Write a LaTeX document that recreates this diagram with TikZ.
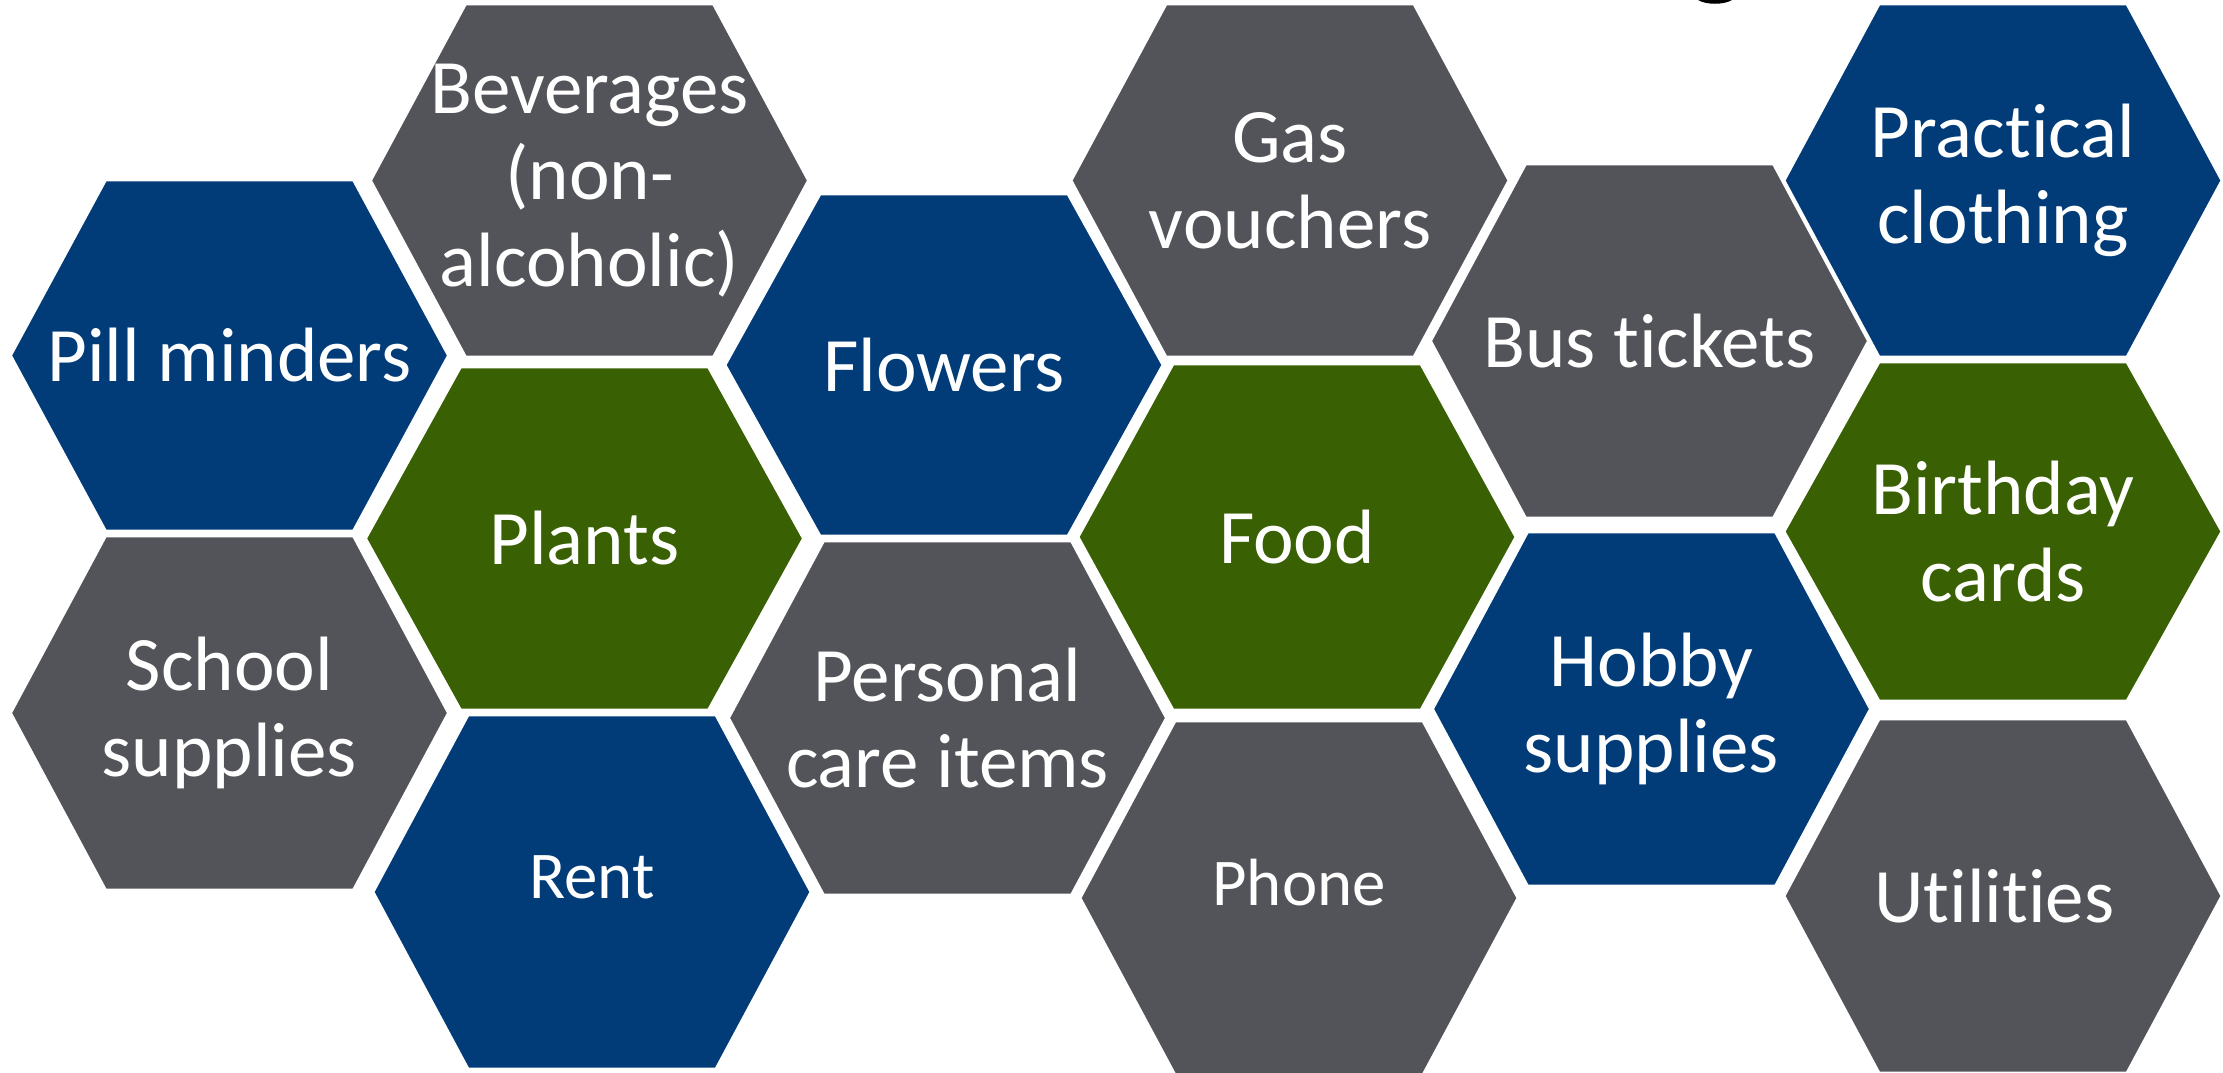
\documentclass[tikz,border=0pt]{standalone}
\usepackage{fontspec}
\setmainfont{Carlito}
\newcommand{\nolig}{\kern0pt}
\definecolor{hexblue}{RGB}{1,60,121}
\definecolor{hexgray}{RGB}{83,84,90}
\definecolor{hexgreen}{RGB}{57,96,2}

\begin{document}
\begin{tikzpicture}[x=0.01cm, y=-0.01cm,
  cell/.style={text=white, align=center, inner sep=0pt, font=\fontsize{21.9}{24.5}\selectfont},
  smallcell/.style={cell, yshift=4.3pt, font=\fontsize{19}{22}\selectfont},
  hexfill/.style={draw=white, line width=0.8pt}]
\useasboundingbox (0,0) rectangle (2223,1072);
%
\foreach \nm/\cx/\cy/\hh/\col/\sty/\txt in {
  pill/229.5/355.5/175.5/hexblue/cell/{Pill minders},
  school/229.5/713/177/hexgray/cell/{School\\supplies},
  bev/589.5/180.5/176.5/hexgray/cell/{Beverages\\(non-\\alcoholic)},
  plants/584.5/538.5/171.5/hexgreen/cell/{Plants},
  rent/592/892/177/hexblue/smallcell/{Rent},
  flowers/944/365/171/hexblue/cell/{Flowers},
  care/947.5/718/177/hexgray/cell/{Personal\\care items},
  gas/1290/180.5/176.5/hexgray/cell/{Gas\\vouchers},
  food/1297/537/173/hexgreen/cell/{Food},
  phone/1299/898/177/hexgray/smallcell/{Phone},
  bus/1649.5/341/177/hexgray/cell/{Bus t\nolig ickets},
  hobby/1651.5/709/177/hexblue/cell/{Hobby\\supplies},
  clothing/2003/180.5/176.5/hexblue/cell/{Pract\nolig ical\\clothing},
  cards/2003/531.5/169.5/hexgreen/cell/{Birthday\\cards},
  util/2003/896/177/hexgray/cell/{Ut\nolig ilit\nolig ies}
}{
  \path[hexfill, fill=\col] (\cx-219,\cy) -- (\cx-124,\cy-\hh) -- (\cx+124,\cy-\hh)
    -- (\cx+219,\cy) -- (\cx+124,\cy+\hh) -- (\cx-124,\cy+\hh) -- cycle;
  \node[\sty] (\nm) at (\cx,\cy) {\txt};
}
%
% cut-off descender of the title above
\fill[black] (1698,0) .. controls (1706,5) and (1724,5) .. (1732,0) -- cycle;
\end{tikzpicture}
\end{document}
